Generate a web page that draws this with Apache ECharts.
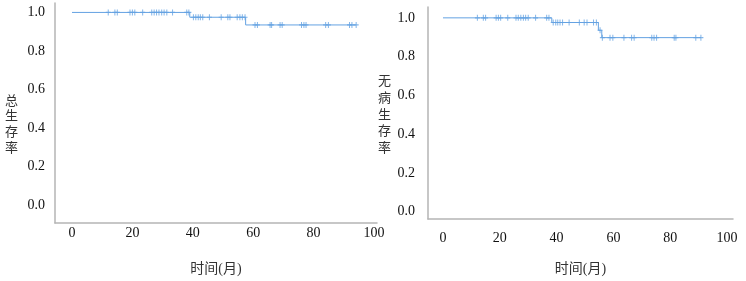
<!DOCTYPE html>
<html>
<head>
<meta charset="utf-8">
<script src="https://cdn.jsdelivr.net/npm/echarts@6/dist/echarts.min.js"></script>
<style>
html,body{margin:0;padding:0;background:#fff;}
#chart{width:746px;height:281px;}
</style>
</head>
<body>
<div id="chart"></div>
<script>
// ---- Data ----
// Overall survival (left panel)
const osStepTimes = [0, 39.0, 57.5];
const osStepSurv = [1.0, 0.975, 0.935];
const osEndTime = 94.1;
const osCensorTimes = [12.0, 14.2, 15.0, 19.2, 20.0, 20.8, 23.4, 26.4, 27.2, 28.0, 28.8, 29.7, 30.5, 31.4, 33.3, 38.0, 38.7,
  40.2, 41.0, 41.8, 42.5, 43.3, 45.5, 49.4, 51.6, 52.3, 54.7, 55.6, 56.4, 57.3,
  60.6, 61.4, 65.6, 66.1, 68.9, 69.6, 76.0, 76.8, 77.5, 84.0, 84.9, 91.9, 92.7, 94.1];

// Disease-free survival (right panel)
const dfsStepTimes = [0, 38.3, 54.7, 55.9];
const dfsStepSurv = [1.0, 0.976, 0.936, 0.898];
const dfsEndTime = 90.8;
const dfsCensorTimes = [12.1, 14.2, 15.0, 18.7, 19.5, 20.3, 22.8, 25.7, 26.5, 27.4, 28.3, 29.1, 30.0, 32.6, 36.5, 37.3,
  38.8, 39.7, 40.4, 41.2, 42.1, 44.4, 48.0, 49.7, 50.7, 53.0, 54.0, 55.3,
  56.1, 58.8, 59.8, 63.7, 66.4, 67.3, 73.5, 74.3, 75.2, 81.4, 82.0, 89.0, 90.8];

// Axis tick labels
const xTicks = [0, 20, 40, 60, 80, 100];
const yTicks = [0, 0.2, 0.4, 0.6, 0.8, 1.0];
const xTitle = '时间(月)';
const yTitleLeft = '总生存率';
const yTitleRight = '无病生存率';

// ---- Helpers ----
function stepLine(times, surv, end) {
  const pts = times.map((t, i) => [t, surv[i]]);
  pts.push([end, surv[surv.length - 1]]);
  return pts;
}
function survAt(times, surv, t) {
  let s = surv[0];
  for (let i = 0; i < times.length; i++) if (times[i] <= t) s = surv[i];
  return s;
}
function censorPts(ct, times, surv) {
  return ct.map(t => [t, survAt(times, surv, t)]);
}

const lineColor = '#64a2e2';
const plusSym = 'path://M4,0H6V10H4Z M0,4H10V6H0Z';
const serif = '"Liberation Serif", "Times New Roman", "Noto Sans CJK SC", serif';

function xAxisCfg(gi, min, max, margin, gap) {
  return {
    gridIndex: gi, type: 'value', min: min, max: max,
    axisLine: {show: true, onZero: false, lineStyle: {color: '#b5b5b5', width: 1.5}},
    axisTick: {show: false},
    splitLine: {show: false},
    axisLabel: {customValues: xTicks, margin: margin, color: '#111', fontSize: 14, fontFamily: serif},
    name: xTitle, nameLocation: 'middle', nameGap: gap,
    nameTextStyle: {color: '#333', fontSize: 14, fontFamily: serif}
  };
}
function yAxisCfg(gi, min, max, margin) {
  return {
    gridIndex: gi, type: 'value', min: min, max: max,
    axisLine: {show: true, onZero: false, lineStyle: {color: '#b5b5b5', width: 1.5}},
    axisTick: {show: false},
    splitLine: {show: false},
    axisLabel: {customValues: yTicks, margin: margin, color: '#111', fontSize: 14, fontFamily: serif,
      formatter: v => v.toFixed(1)}
  };
}

const chart = echarts.init(document.getElementById('chart'), null, {renderer: 'canvas'});
chart.setOption({
  animation: false,
  backgroundColor: '#fff',
  grid: [
    {left: 55, top: 3, width: 322, height: 220},
    {left: 428, top: 7, width: 305, height: 212}
  ],
  xAxis: [
    xAxisCfg(0, -5.63, 101.0, 3, 39),
    xAxisCfg(1, -5.28, 102.1, 12, 43)
  ],
  yAxis: [
    yAxisCfg(0, -0.0935, 1.049, 10),
    yAxisCfg(1, -0.0376, 1.056, 13)
  ],
  graphic: [
    {type: 'text', left: 5, top: 92, style: {text: yTitleLeft.split('').join('\n'), fill: '#333',
      font: '13px "Noto Sans CJK SC"', lineHeight: 15.7}},
    {type: 'text', left: 378, top: 72, style: {text: yTitleRight.split('').join('\n'), fill: '#333',
      font: '13px "Noto Sans CJK SC"', lineHeight: 16.7}}
  ],
  series: [
    {type: 'line', xAxisIndex: 0, yAxisIndex: 0, step: 'end', showSymbol: false,
      data: stepLine(osStepTimes, osStepSurv, osEndTime),
      lineStyle: {color: lineColor, width: 1}},
    {type: 'scatter', xAxisIndex: 0, yAxisIndex: 0, symbol: plusSym, symbolSize: [5, 6],
      itemStyle: {color: lineColor},
      data: censorPts(osCensorTimes, osStepTimes, osStepSurv)},
    {type: 'line', xAxisIndex: 1, yAxisIndex: 1, step: 'end', showSymbol: false,
      data: stepLine(dfsStepTimes, dfsStepSurv, dfsEndTime),
      lineStyle: {color: lineColor, width: 1}},
    {type: 'scatter', xAxisIndex: 1, yAxisIndex: 1, symbol: plusSym, symbolSize: [5, 6],
      itemStyle: {color: lineColor},
      data: censorPts(dfsCensorTimes, dfsStepTimes, dfsStepSurv)}
  ]
});
</script>
</body>
</html>
